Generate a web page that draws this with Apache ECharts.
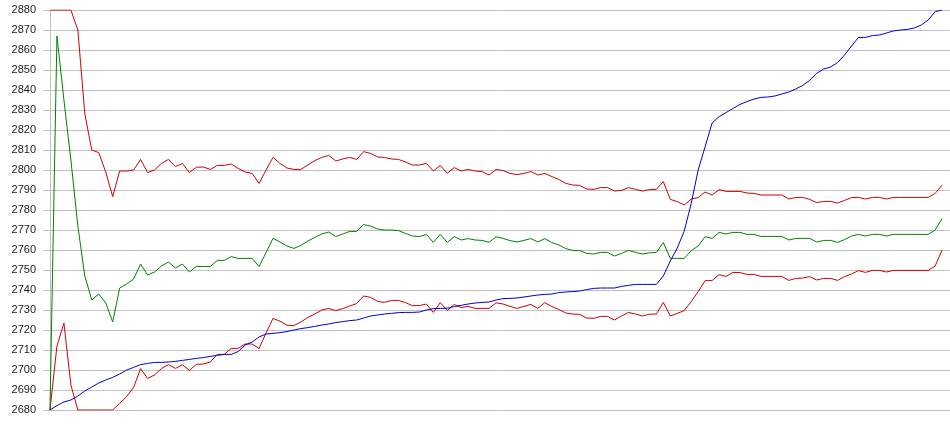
<!DOCTYPE html>
<html>
<head>
<meta charset="utf-8">
<script src="https://cdn.jsdelivr.net/npm/echarts@6/dist/echarts.min.js"></script>
<style>html,body{margin:0;padding:0;background:#fff}#c{width:950px;height:435px}</style>
</head>
<body>
<div id="c"></div>
<script>
// y axis
const yMin = 2680, yMax = 2880, yStep = 10;

// blue series (price)
const price = [2680,2682.2,2684,2685,2687,2689.5,2691.5,2693.5,2695,2696.3,
2698,2700,2701.3,2702.7,2703.3,2703.8,2703.8,2704,2704.3,2704.8,
2705.3,2705.8,2706.2,2706.8,2707.3,2707.8,2707.8,2709.2,2712.5,2714,
2716.5,2718,2718.3,2718.7,2719.2,2720,2720.7,2721.2,2721.8,2722.5,
2723,2723.7,2724.2,2724.7,2725,2726,2727,2727.5,2728,2728.3,
2728.7,2728.8,2728.8,2729,2730,2730.7,2730.8,2730.9,2731.7,2732.3,
2733,2733.5,2733.8,2734,2735,2735.7,2735.8,2736,2736.5,2737,
2737.5,2737.8,2738,2738.7,2739,2739.2,2739.5,2740.2,2740.8,2741,
2741,2741,2741.8,2742.3,2742.8,2742.8,2742.8,2742.8,2747,2754.5,
2761,2769.5,2783.3,2800,2811.7,2823.5,2826.7,2828.7,2830.8,2832.8,
2834.2,2835.5,2836.3,2836.5,2837,2838,2839,2840.5,2842.3,2844.8,
2848.3,2850.5,2851.5,2853.7,2857.5,2862,2866.3,2866.3,2867.2,2867.5,
2868.5,2869.5,2870,2870.3,2871,2872.5,2875,2879.2,2880];

// green series (middle)
const middle = [2680,2867,2835,2805,2772,2747,2735,2738,2733.5,2724,
2741,2743,2745.5,2753,2747.5,2749,2752,2754,2751,2753,
2749,2751.8,2751.7,2751.7,2754.8,2754.8,2756.7,2755.8,2755.8,2755.8,
2751.7,2758.7,2765.8,2764,2762,2760.8,2762.3,2764.5,2766.3,2768,
2769,2766.7,2768,2769.3,2769.3,2772.7,2772,2770.5,2770,2770,
2769.7,2768.3,2767,2766.7,2767.8,2763.8,2767.8,2763.8,2766.7,2765,
2765.7,2765,2764.8,2763.8,2766.6,2765.8,2764.7,2764,2764.8,2765.7,
2764,2765.7,2763.7,2762.5,2760.7,2759.8,2759.7,2758.3,2758,2758.8,
2758.8,2757,2758.3,2759.8,2758.8,2758,2758.6,2758.8,2763.7,2755.8,
2755.8,2755.8,2759.7,2762,2766.7,2765.8,2768.8,2768,2768.8,2768.8,
2767.8,2767.8,2766.8,2766.8,2766.8,2766.8,2765,2765.8,2765.8,2765.8,
2764,2764.8,2764.8,2763.8,2765.2,2767,2767.8,2767,2767.8,2767.8,
2767,2767.8,2767.8,2767.8,2767.8,2767.8,2767.8,2770,2775.8];

// red series (upper band)
const upper = [2880,2880,2880,2880,2870,2828,2810,2808.7,2799,2786.7,
2799.5,2799.5,2800,2805.3,2798.7,2800,2803.3,2805.3,2801.7,2803.3,
2798.7,2801.4,2801.5,2800.3,2802.3,2802.3,2803,2800.8,2799,2798.3,
2793.3,2800,2806.3,2803.3,2801,2800.3,2800.3,2802.5,2804.7,2806.3,
2807.3,2804.5,2805.5,2806.3,2805.3,2809.2,2808.3,2806.5,2806.3,2805.5,
2805.3,2804,2802.5,2802.5,2803.3,2799.5,2802.3,2798.3,2801.2,2799.5,
2800.3,2799.5,2799.2,2797.5,2800.3,2799.7,2798.3,2797.7,2798.3,2799.2,
2797.5,2798.3,2796.7,2795.3,2793.3,2792.5,2792.3,2790.5,2790.3,2791.2,
2791.2,2789.5,2789.8,2791.2,2790.3,2789.5,2790.2,2790.3,2794.2,2785.3,
2784.2,2782.5,2785.5,2786.2,2789,2787.5,2790.2,2789.3,2789.3,2789.3,
2788.5,2788.3,2787.5,2787.5,2787.5,2787.5,2785.5,2786.3,2786.3,2785.3,
2783.7,2784.3,2784.3,2783.5,2784.8,2786.2,2786.3,2785.5,2786.3,2786.3,
2785.5,2786.3,2786.3,2786.3,2786.3,2786.3,2786.3,2788.3,2792.5];

// red series (lower band)
const lower = [2680,2712,2723.5,2692.5,2680,2680,2680,2680,2680,2680,
2683.3,2686.7,2691.3,2700.7,2695.8,2697.5,2700.8,2702.7,2700.8,2702.6,
2699.8,2702.8,2703,2704,2707.8,2707.8,2710.8,2710.8,2713,2713,
2710.8,2718.5,2725.8,2724.4,2722.4,2722.2,2724,2726.3,2728,2730,
2730.8,2729.7,2730.7,2732,2733.2,2737,2736.3,2734.3,2733.8,2734.8,
2734.8,2733.7,2732.2,2732.2,2733,2728.8,2733.7,2729.7,2732.8,2731.2,
2731.8,2730.8,2730.8,2730.8,2733.6,2733,2731.8,2730.8,2731.8,2732.8,
2730.8,2733.7,2731.7,2730.3,2728.5,2728,2727.8,2726,2725.8,2726.8,
2726.8,2725,2727,2728.8,2728,2727,2727.9,2728,2733.8,2727,
2728.3,2729.7,2734.2,2739.2,2744.7,2744.7,2747.7,2746.8,2748.8,2748.7,
2747.8,2747.8,2746.8,2746.8,2746.8,2746.8,2744.8,2745.8,2746,2746.7,
2745,2745.8,2745.8,2744.8,2746.7,2748,2749.7,2748.8,2749.8,2749.8,
2749,2749.8,2749.8,2749.8,2749.8,2749.8,2749.8,2752,2760];

const pts = arr => arr.map((v, i) => [i, v]);
const mk = (name, arr, color) => ({
  name, type: 'line', data: pts(arr), showSymbol: false, symbol: 'none',
  lineStyle: { width: 1, color }, itemStyle: { color }, clip: true, animation: false
});

const chart = echarts.init(document.getElementById('c'), null, { renderer: 'canvas' });
chart.setOption({
  animation: false,
  backgroundColor: '#ffffff',
  grid: { left: 43, right: 0, top: 10, bottom: 25 },
  xAxis: {
    type: 'value', min: -1, max: 129.13,
    axisLine: { show: false }, axisTick: { show: false },
    axisLabel: { show: false }, splitLine: { show: false }
  },
  yAxis: {
    type: 'value', min: yMin, max: yMax, interval: yStep,
    axisLine: { show: true, lineStyle: { color: '#c0c0c0', width: 1 } },
    axisTick: { show: false },
    axisLabel: { margin: 7, color: '#1a1a1a', fontSize: 11, fontFamily: 'Liberation Sans, Arial, sans-serif',
      formatter: v => String(v) },
    splitLine: { show: true, lineStyle: { color: '#c0c0c0', width: 1 } }
  },
  series: [
    mk('upper', upper, '#cc0000'),
    mk('lower', lower, '#cc0000'),
    mk('middle', middle, '#008000'),
    mk('price', price, '#0000cc')
  ]
});
</script>
</body>
</html>
